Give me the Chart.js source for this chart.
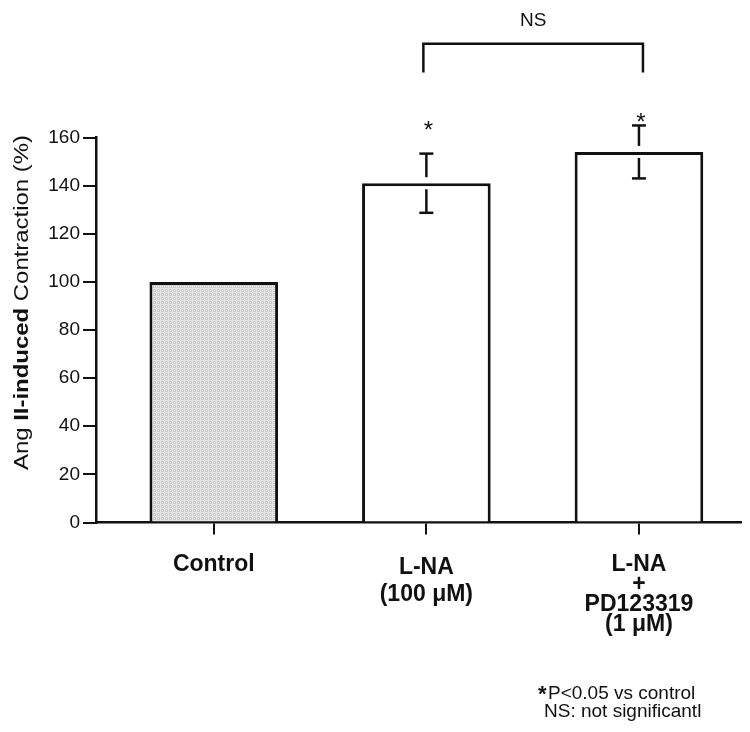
<!DOCTYPE html>
<html>
<head>
<meta charset="utf-8">
<script src="https://cdn.jsdelivr.net/npm/chart.js@4.4.1/dist/chart.umd.min.js"></script>
<style>
html,body{margin:0;padding:0;background:#fff;}
canvas{display:block;}
</style>
</head>
<body>
<canvas id="c" width="750" height="732"></canvas>
<script>
// ---- data ----
const categories = [
  ['Control'],
  ['L-NA', '(100 \u03BCM)'],
  ['L-NA', '+', 'PD123319', '(1 \u03BCM)']
];
const values = [100, 141, 154];
const sem = [0, 12.3, 11];
const significant = [false, true, true];
const yTickStep = 20;
const yMin = 0;
const yMax = 160;
const yTitleParts = [['Ang ', 'normal'], ['II-induced', 'bold'], [' Contraction (%)', 'normal']];
const footnotes = ['P<0.05 vs control', 'NS: not significantl'];

const FONT = '"Liberation Sans", Arial, Helvetica, sans-serif';
const INK = '#111';

function makePattern() {
  const c = document.createElement('canvas');
  c.width = 4; c.height = 4;
  const g = c.getContext('2d');
  g.fillStyle = '#cdcdcd'; g.fillRect(0, 0, 4, 4);
  g.fillStyle = '#e6e6e6'; g.fillRect(0, 0, 4, 1); g.fillRect(0, 0, 1, 4);
  g.fillStyle = '#ffffff'; g.fillRect(2, 2, 1, 1);
  return g.createPattern(c, 'repeat');
}

const ctx = document.getElementById('c').getContext('2d');

const bgPlugin = {
  id: 'bg',
  beforeDraw(chart) {
    const c = chart.ctx;
    c.save(); c.fillStyle = '#fff'; c.fillRect(0, 0, chart.width, chart.height); c.restore();
  }
};

const annPlugin = {
  id: 'ann',
  afterDraw(chart) {
    const c = chart.ctx;
    const y = chart.scales.y;
    const x = chart.scales.x;
    const meta = chart.getDatasetMeta(0);
    c.save();
    c.strokeStyle = INK; c.fillStyle = INK; c.lineWidth = 2.5; c.lineCap = 'butt';
    const line = (x1, y1, x2, y2) => { c.beginPath(); c.moveTo(x1, y1); c.lineTo(x2, y2); c.stroke(); };
    // error bars (whisker broken around bar top)
    values.forEach((v, i) => {
      if (!sem[i]) return;
      const bx = meta.data[i].x;
      const top = y.getPixelForValue(v + sem[i]);
      const bot = y.getPixelForValue(v - sem[i]);
      const m = y.getPixelForValue(v);
      const gap = 6, cw = 7;
      line(bx, top, bx, m - gap);
      line(bx, m + gap, bx, bot);
      line(bx - cw, top, bx + cw, top);
      line(bx - cw, bot, bx + cw, bot);
    });
    // significance asterisks
    const starVal = [null, 164.5, 168];
    c.font = '24px ' + FONT; c.textAlign = 'center'; c.textBaseline = 'middle';
    significant.forEach((s, i) => {
      if (!s) return;
      const bx = meta.data[i].x;
      c.fillText('*', bx + 2, y.getPixelForValue(starVal[i]) + 5);
    });
    // NS bracket between bars 1 and 2
    const x1 = x.getPixelForValue(1) - 3, x2 = x.getPixelForValue(2) + 4;
    const yb = y.getPixelForValue(199), yl = y.getPixelForValue(187);
    c.beginPath(); c.moveTo(x1, yl); c.lineTo(x1, yb); c.lineTo(x2, yb); c.lineTo(x2, yl); c.stroke();
    c.font = '19px ' + FONT; c.textBaseline = 'alphabetic';
    c.fillText('NS', (x1 + x2) / 2, yb - 17.5);
    // y-axis title (mixed weights)
    c.save();
    c.translate(28, 302.5);
    c.rotate(-Math.PI / 2);
    let w = 0;
    const widths = yTitleParts.map(p => { c.font = p[1] + ' 21px ' + FONT; const mw = c.measureText(p[0]).width; w += mw; return mw; });
    c.scale(335 / w, 1);
    let px = -w / 2;
    c.textAlign = 'left'; c.textBaseline = 'alphabetic';
    yTitleParts.forEach((p, i) => { c.font = p[1] + ' 21px ' + FONT; c.fillText(p[0], px, 0); px += widths[i]; });
    c.restore();
    // footnotes
    c.textAlign = 'left'; c.textBaseline = 'alphabetic';
    c.font = 'bold 22px ' + FONT;
    c.fillText('*', 538, 701);
    c.font = '19px ' + FONT;
    c.fillText(footnotes[0], 548, 699);
    c.fillText(footnotes[1], 544, 717);
    c.restore();
  }
};

new Chart(ctx, {
  type: 'bar',
  data: {
    datasets: [{
      data: values.map((v, i) => ({ x: i, y: v })),
      backgroundColor: [makePattern(), '#ffffff', '#ffffff'],
      borderColor: INK,
      borderWidth: 3,
      borderSkipped: 'bottom',
      categoryPercentage: 0.605,
      barPercentage: 1
    }]
  },
  options: {
    responsive: false,
    animation: false,
    events: [],
    layout: { padding: { top: 137.5, right: 9, left: 0, bottom: 0 } },
    plugins: { legend: { display: false }, tooltip: { enabled: false } },
    scales: {
      x: {
        type: 'linear',
        offset: false,
        min: -0.554,
        max: 2.48,
        afterBuildTicks: s => { s.ticks = categories.map((_, i) => ({ value: i })); },
        afterFit: s => { s.height = 209.5; },
        grid: { offset: false, drawOnChartArea: false, drawTicks: true, tickLength: 12, color: INK, lineWidth: 2 },
        border: { display: true, color: INK, width: 2.5 },
        ticks: {
          callback: v => categories[v],
          maxRotation: 0, autoSkip: false, padding: 20, color: INK,
          font: c => ({ family: FONT, size: 23, weight: 'bold', lineHeight: c.index === 1 ? '27px' : '20px' })
        }
      },
      y: {
        min: yMin, max: yMax,
        afterFit: s => { s.width = 96; },
        ticks: { stepSize: yTickStep, padding: 3, color: INK, font: { family: FONT, size: 19 } },
        grid: { drawOnChartArea: false, drawTicks: true, tickLength: 13, color: INK, lineWidth: 2 },
        border: { display: true, color: INK, width: 2.5 }
      }
    }
  },
  plugins: [bgPlugin, annPlugin]
});
</script>
</body>
</html>
